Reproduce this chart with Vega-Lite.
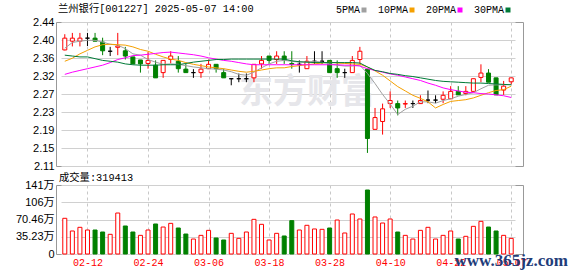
{
  "$schema": "https://vega.github.io/schema/vega-lite/v6.json",
  "padding": {"left": 5, "top": 3, "right": 0, "bottom": 0},
  "background": "white",
  "spacing": 0,
  "config": {
    "view": {"stroke": "#999999", "strokeWidth": 1},
    "axis": {"ticks": false, "domain": false, "gridColor": "#d0d0d0", "gridWidth": 1, "labelColor": "#000000", "labelOverlap": false}
  },
  "resolve": {"scale": {"x": "independent", "y": "independent", "fill": "independent", "stroke": "independent"}},
  "datasets": {
    "k": [
      {"d":"02-07","o":2.376,"h":2.412,"l":2.375,"c":2.403,"t":"u","v":729000,"vt":"u","m5":2.380,"m10":2.350,"m20":2.320,"m30":2.364},
      {"d":"02-10","o":2.396,"h":2.415,"l":2.384,"c":2.403,"t":"u","v":470000,"vt":"u","m5":2.393,"m10":2.357,"m20":2.325,"m30":2.362},
      {"d":"02-11","o":2.396,"h":2.415,"l":2.384,"c":2.403,"t":"u","v":545000,"vt":"u","m5":2.396,"m10":2.367,"m20":2.329,"m30":2.360},
      {"d":"02-12","o":2.403,"h":2.415,"l":2.385,"c":2.403,"t":"f","v":490000,"vt":"u","m5":2.398,"m10":2.375,"m20":2.333,"m30":2.360},
      {"d":"02-13","o":2.403,"h":2.415,"l":2.396,"c":2.396,"t":"d","v":490000,"vt":"d","m5":2.398,"m10":2.383,"m20":2.337,"m30":2.356},
      {"d":"02-14","o":2.394,"h":2.404,"l":2.364,"c":2.374,"t":"d","v":449000,"vt":"d","m5":2.394,"m10":2.388,"m20":2.341,"m30":2.352},
      {"d":"02-17","o":2.373,"h":2.383,"l":2.362,"c":2.373,"t":"f","v":402000,"vt":"u","m5":2.389,"m10":2.389,"m20":2.347,"m30":2.350},
      {"d":"02-18","o":2.382,"h":2.415,"l":2.364,"c":2.385,"t":"u","v":837000,"vt":"u","m5":2.387,"m10":2.388,"m20":2.354,"m30":2.348},
      {"d":"02-19","o":2.374,"h":2.383,"l":2.354,"c":2.362,"t":"d","v":572000,"vt":"d","m5":2.379,"m10":2.387,"m20":2.358,"m30":2.344},
      {"d":"02-20","o":2.360,"h":2.360,"l":2.344,"c":2.344,"t":"d","v":449000,"vt":"d","m5":2.367,"m10":2.383,"m20":2.363,"m30":2.342},
      {"d":"02-21","o":2.353,"h":2.353,"l":2.324,"c":2.344,"t":"d","v":381000,"vt":"u","m5":2.364,"m10":2.377,"m20":2.364,"m30":2.341},
      {"d":"02-24","o":2.345,"h":2.371,"l":2.333,"c":2.352,"t":"u","v":490000,"vt":"u","m5":2.354,"m10":2.373,"m20":2.366,"m30":2.341},
      {"d":"02-25","o":2.341,"h":2.352,"l":2.312,"c":2.312,"t":"d","v":613000,"vt":"d","m5":2.348,"m10":2.366,"m20":2.368,"m30":2.341},
      {"d":"02-26","o":2.324,"h":2.352,"l":2.312,"c":2.352,"t":"u","v":551000,"vt":"u","m5":2.343,"m10":2.360,"m20":2.370,"m30":2.342},
      {"d":"02-27","o":2.354,"h":2.373,"l":2.345,"c":2.362,"t":"u","v":626000,"vt":"u","m5":2.344,"m10":2.355,"m20":2.371,"m30":2.342},
      {"d":"02-28","o":2.350,"h":2.362,"l":2.324,"c":2.333,"t":"d","v":531000,"vt":"d","m5":2.343,"m10":2.352,"m20":2.369,"m30":2.342},
      {"d":"03-03","o":2.332,"h":2.344,"l":2.324,"c":2.324,"t":"d","v":408000,"vt":"d","m5":2.340,"m10":2.347,"m20":2.367,"m30":2.345},
      {"d":"03-04","o":2.324,"h":2.332,"l":2.312,"c":2.324,"t":"f","v":306000,"vt":"u","m5":2.337,"m10":2.343,"m20":2.365,"m30":2.348},
      {"d":"03-05","o":2.324,"h":2.344,"l":2.312,"c":2.332,"t":"u","v":381000,"vt":"u","m5":2.335,"m10":2.340,"m20":2.362,"m30":2.350},
      {"d":"03-06","o":2.333,"h":2.354,"l":2.333,"c":2.343,"t":"u","v":483000,"vt":"u","m5":2.333,"m10":2.337,"m20":2.358,"m30":2.352},
      {"d":"03-07","o":2.343,"h":2.343,"l":2.324,"c":2.333,"t":"d","v":327000,"vt":"d","m5":2.332,"m10":2.335,"m20":2.355,"m30":2.354},
      {"d":"03-10","o":2.324,"h":2.333,"l":2.312,"c":2.312,"t":"d","v":286000,"vt":"d","m5":2.330,"m10":2.333,"m20":2.352,"m30":2.354},
      {"d":"03-11","o":2.310,"h":2.310,"l":2.295,"c":2.310,"t":"f","v":422000,"vt":"u","m5":2.326,"m10":2.330,"m20":2.350,"m30":2.355},
      {"d":"03-12","o":2.310,"h":2.322,"l":2.302,"c":2.310,"t":"f","v":320000,"vt":"u","m5":2.320,"m10":2.327,"m20":2.347,"m30":2.355},
      {"d":"03-13","o":2.310,"h":2.322,"l":2.302,"c":2.310,"t":"f","v":449000,"vt":"u","m5":2.318,"m10":2.325,"m20":2.344,"m30":2.355},
      {"d":"03-14","o":2.312,"h":2.343,"l":2.302,"c":2.343,"t":"u","v":708000,"vt":"u","m5":2.325,"m10":2.327,"m20":2.342,"m30":2.355},
      {"d":"03-17","o":2.344,"h":2.362,"l":2.333,"c":2.352,"t":"u","v":606000,"vt":"u","m5":2.335,"m10":2.330,"m20":2.342,"m30":2.355},
      {"d":"03-18","o":2.362,"h":2.362,"l":2.344,"c":2.352,"t":"d","v":286000,"vt":"u","m5":2.344,"m10":2.333,"m20":2.342,"m30":2.355},
      {"d":"03-19","o":2.354,"h":2.373,"l":2.344,"c":2.362,"t":"u","v":422000,"vt":"u","m5":2.350,"m10":2.335,"m20":2.342,"m30":2.355},
      {"d":"03-20","o":2.362,"h":2.373,"l":2.344,"c":2.352,"t":"d","v":368000,"vt":"d","m5":2.352,"m10":2.335,"m20":2.342,"m30":2.355},
      {"d":"03-21","o":2.345,"h":2.373,"l":2.333,"c":2.343,"t":"d","v":681000,"vt":"d","m5":2.350,"m10":2.338,"m20":2.342,"m30":2.351},
      {"d":"03-24","o":2.343,"h":2.352,"l":2.324,"c":2.343,"t":"f","v":490000,"vt":"u","m5":2.348,"m10":2.340,"m20":2.342,"m30":2.349},
      {"d":"03-25","o":2.333,"h":2.362,"l":2.333,"c":2.350,"t":"u","v":586000,"vt":"u","m5":2.348,"m10":2.342,"m20":2.342,"m30":2.348},
      {"d":"03-26","o":2.350,"h":2.373,"l":2.344,"c":2.350,"t":"f","v":511000,"vt":"u","m5":2.350,"m10":2.344,"m20":2.342,"m30":2.347},
      {"d":"03-27","o":2.350,"h":2.373,"l":2.344,"c":2.350,"t":"f","v":504000,"vt":"u","m5":2.348,"m10":2.346,"m20":2.342,"m30":2.347},
      {"d":"03-28","o":2.352,"h":2.352,"l":2.324,"c":2.324,"t":"d","v":531000,"vt":"d","m5":2.344,"m10":2.348,"m20":2.342,"m30":2.347},
      {"d":"03-31","o":2.333,"h":2.352,"l":2.312,"c":2.324,"t":"d","v":694000,"vt":"u","m5":2.341,"m10":2.346,"m20":2.342,"m30":2.347},
      {"d":"04-01","o":2.324,"h":2.333,"l":2.312,"c":2.324,"t":"f","v":429000,"vt":"u","m5":2.339,"m10":2.345,"m20":2.341,"m30":2.347},
      {"d":"04-02","o":2.324,"h":2.362,"l":2.324,"c":2.352,"t":"u","v":817000,"vt":"u","m5":2.339,"m10":2.344,"m20":2.341,"m30":2.347},
      {"d":"04-03","o":2.354,"h":2.383,"l":2.343,"c":2.373,"t":"u","v":715000,"vt":"u","m5":2.341,"m10":2.343,"m20":2.339,"m30":2.346},
      {"d":"04-07","o":2.332,"h":2.332,"l":2.140,"c":2.173,"t":"d","v":1307000,"vt":"d","m5":2.322,"m10":2.337,"m20":2.333,"m30":2.337},
      {"d":"04-08","o":2.194,"h":2.243,"l":2.194,"c":2.221,"t":"u","v":756000,"vt":"u","m5":2.299,"m10":2.328,"m20":2.329,"m30":2.329},
      {"d":"04-09","o":2.212,"h":2.253,"l":2.182,"c":2.241,"t":"u","v":633000,"vt":"u","m5":2.274,"m10":2.318,"m20":2.325,"m30":2.326},
      {"d":"04-10","o":2.253,"h":2.281,"l":2.243,"c":2.260,"t":"u","v":715000,"vt":"u","m5":2.252,"m10":2.305,"m20":2.321,"m30":2.322},
      {"d":"04-11","o":2.253,"h":2.260,"l":2.226,"c":2.243,"t":"d","v":449000,"vt":"d","m5":2.228,"m10":2.292,"m20":2.318,"m30":2.320},
      {"d":"04-14","o":2.252,"h":2.260,"l":2.243,"c":2.253,"t":"u","v":381000,"vt":"u","m5":2.240,"m10":2.282,"m20":2.314,"m30":2.317},
      {"d":"04-15","o":2.253,"h":2.260,"l":2.243,"c":2.253,"t":"f","v":306000,"vt":"u","m5":2.247,"m10":2.272,"m20":2.310,"m30":2.315},
      {"d":"04-16","o":2.253,"h":2.272,"l":2.253,"c":2.260,"t":"u","v":483000,"vt":"u","m5":2.257,"m10":2.265,"m20":2.306,"m30":2.312},
      {"d":"04-17","o":2.261,"h":2.283,"l":2.254,"c":2.261,"t":"f","v":545000,"vt":"u","m5":2.257,"m10":2.257,"m20":2.300,"m30":2.309},
      {"d":"04-18","o":2.261,"h":2.272,"l":2.254,"c":2.261,"t":"f","v":306000,"vt":"u","m5":2.254,"m10":2.243,"m20":2.295,"m30":2.306},
      {"d":"04-21","o":2.263,"h":2.281,"l":2.254,"c":2.272,"t":"u","v":381000,"vt":"u","m5":2.260,"m10":2.251,"m20":2.289,"m30":2.304},
      {"d":"04-22","o":2.264,"h":2.293,"l":2.264,"c":2.281,"t":"u","v":470000,"vt":"u","m5":2.264,"m10":2.258,"m20":2.285,"m30":2.303},
      {"d":"04-23","o":2.281,"h":2.293,"l":2.273,"c":2.273,"t":"d","v":306000,"vt":"d","m5":2.270,"m10":2.260,"m20":2.282,"m30":2.302},
      {"d":"04-24","o":2.276,"h":2.293,"l":2.272,"c":2.281,"t":"u","v":361000,"vt":"u","m5":2.274,"m10":2.262,"m20":2.279,"m30":2.301},
      {"d":"04-25","o":2.281,"h":2.310,"l":2.281,"c":2.310,"t":"u","v":565000,"vt":"u","m5":2.278,"m10":2.266,"m20":2.278,"m30":2.300},
      {"d":"04-28","o":2.313,"h":2.343,"l":2.302,"c":2.323,"t":"u","v":667000,"vt":"u","m5":2.287,"m10":2.272,"m20":2.276,"m30":2.300},
      {"d":"04-29","o":2.323,"h":2.332,"l":2.302,"c":2.302,"t":"d","v":551000,"vt":"d","m5":2.295,"m10":2.278,"m20":2.275,"m30":2.299},
      {"d":"04-30","o":2.312,"h":2.312,"l":2.273,"c":2.273,"t":"d","v":470000,"vt":"d","m5":2.296,"m10":2.283,"m20":2.273,"m30":2.298},
      {"d":"05-06","o":2.284,"h":2.305,"l":2.273,"c":2.293,"t":"u","v":381000,"vt":"u","m5":2.296,"m10":2.285,"m20":2.271,"m30":2.297},
      {"d":"05-07","o":2.303,"h":2.312,"l":2.297,"c":2.312,"t":"u","v":319413,"vt":"u","m5":2.297,"m10":2.293,"m20":2.267,"m30":2.296}
    ]
  },
  "vconcat": [
    {
      "width": 467,
      "height": 144,
      "title": {"text": "兰州银行[001227] 2025-05-07 14:00", "anchor": "start", "frame": "group", "font": "Liberation Mono, Noto Sans CJK SC", "fontSize": 10.3, "fontWeight": "normal", "color": "#000000", "offset": 2, "dx": 2},
      "layer": [
        {
          "data": {"values": [{"w": "东方财富"}]},
          "mark": {"type": "text", "font": "Noto Sans CJK SC", "fontSize": 34, "fontWeight": "bold", "color": "#e6e6ea", "align": "center", "baseline": "middle"},
          "encoding": {
            "x": {"datum": "03-25", "type": "ordinal"},
            "y": {"datum": 2.277, "type": "quantitative"},
            "text": {"field": "w"}
          }
        },
        {
          "data": {"name": "k"},
          "mark": {"type": "rule", "strokeWidth": 1},
          "encoding": {
            "x": {"field": "d", "type": "ordinal", "scale": {"type": "point", "range": [5, 459]},
                  "axis": {"values": ["02-12","02-24","03-06","03-18","03-28","04-10","04-22","05-07"], "labels": false, "grid": true, "gridDash": [3,3], "gridColor": "#c8c8c8", "title": null, "minExtent": 0, "maxExtent": 0, "labelPadding": 0}},
            "y": {"field": "l", "type": "quantitative", "scale": {"domain": [2.11, 2.44], "nice": false, "zero": false},
                  "axis": {"values": [2.11, 2.15125, 2.1925, 2.23375, 2.275, 2.31625, 2.3575, 2.39875, 2.44], "tickCount": 20, "format": ".2f", "grid": true, "labelOverlap": false, "labelPadding": 2, "minExtent": 50, "maxExtent": 50, "labelFont": "Liberation Sans", "labelFontSize": 11, "title": null}},
            "y2": {"field": "h"},
            "stroke": {"field": "t", "type": "nominal", "scale": {"domain": ["u","d","f"], "range": ["#ff0000","#008000","#000000"]}, "legend": null}
          }
        },
        {
          "data": {"name": "k"},
          "mark": {"type": "bar", "size": 4, "strokeWidth": 1},
          "encoding": {
            "x": {"field": "d", "type": "ordinal"},
            "y": {"field": "o", "type": "quantitative"},
            "y2": {"field": "c"},
            "fill": {"field": "t", "type": "nominal", "scale": {"domain": ["u","d","f"], "range": ["#ffffff","#008000","#000000"]}, "legend": null},
            "stroke": {"field": "t", "type": "nominal", "legend": null}
          }
        },
        {
          "data": {"name": "k"},
          "transform": [{"fold": ["m5","m10","m20","m30"], "as": ["k","val"]}],
          "mark": {"type": "line", "strokeWidth": 1},
          "encoding": {
            "x": {"field": "d", "type": "ordinal"},
            "y": {"field": "val", "type": "quantitative"},
            "color": {"field": "k", "type": "nominal",
                      "scale": {"domain": ["m5","m10","m20","m30"], "range": ["#a0a0a0","#f5a000","#ff00ff","#007a37"]},
                      "legend": {"orient": "none", "legendX": 303, "legendY": -17, "direction": "horizontal", "title": null, "padding": 0,
                                 "labelFont": "Liberation Mono", "labelFontSize": 10, "labelColor": "#000000",
                                 "labelAlign": "right", "labelOffset": -9, "columnPadding": 10,
                                 "symbolType": "square", "symbolSize": 25, "symbolStrokeWidth": 0,
                                 "labelExpr": "slice(datum.label, 1) + 'PMA'",
                                 "encode": {"symbols": {"update": {"fill": {"scale": "color", "field": "value"}, "fillOpacity": {"value": 1}}}}}}
          }
        }
      ]
    },
    {
      "width": 467,
      "height": 69,
      "title": {"text": "成交量:319413", "anchor": "start", "frame": "group", "font": "Liberation Mono, Noto Sans CJK SC", "fontSize": 10.3, "fontWeight": "normal", "color": "#000000", "offset": -4, "dx": 3},
      "layer": [
        {
          "data": {"name": "k"},
          "mark": {"type": "bar", "size": 4, "strokeWidth": 1},
          "encoding": {
            "x": {"field": "d", "type": "ordinal", "scale": {"type": "point", "range": [5, 459]},
                  "axis": {"values": ["02-12","02-24","03-06","03-18","03-28","04-10","04-22","05-07"], "labelAngle": 0, "labelColor": "#ff0000", "labelFont": "Liberation Mono", "labelFontSize": 10, "labelPadding": 3, "grid": true, "gridDash": [3,3], "gridColor": "#c8c8c8", "title": null}},
            "y": {"field": "v", "type": "quantitative", "scale": {"domain": [0, 1409200], "nice": false},
                  "axis": {"values": [0, 352300, 704600, 1056900, 1409200], "tickCount": 20, "grid": true, "labelOverlap": false, "labelPadding": 2, "minExtent": 50, "maxExtent": 50, "labelFont": "Liberation Sans, Noto Sans CJK SC", "labelFontSize": 11, "title": null,
                           "labelExpr": "datum.value == 0 ? '0' : (datum.value >= 1000000 ? format(datum.value / 10000, '.0f') : format(datum.value / 10000, '.2f')) + '万'"}},
            "fill": {"field": "vt", "type": "nominal", "scale": {"domain": ["u","d"], "range": ["#ffffff","#008000"]}, "legend": null},
            "stroke": {"field": "vt", "type": "nominal", "scale": {"domain": ["u","d"], "range": ["#ff0000","#008000"]}, "legend": null}
          }
        },
        {
          "data": {"values": [{"w": "www.365jz.com"}]},
          "mark": {"type": "text", "font": "Liberation Serif", "fontSize": 17, "fontWeight": "bold", "color": "#1f3d7a", "align": "center", "baseline": "middle", "clip": false},
          "encoding": {
            "x": {"datum": "05-07", "type": "ordinal"},
            "y": {"datum": -135000, "type": "quantitative"},
            "text": {"field": "w"}
          }
        }
      ]
    }
  ]
}
